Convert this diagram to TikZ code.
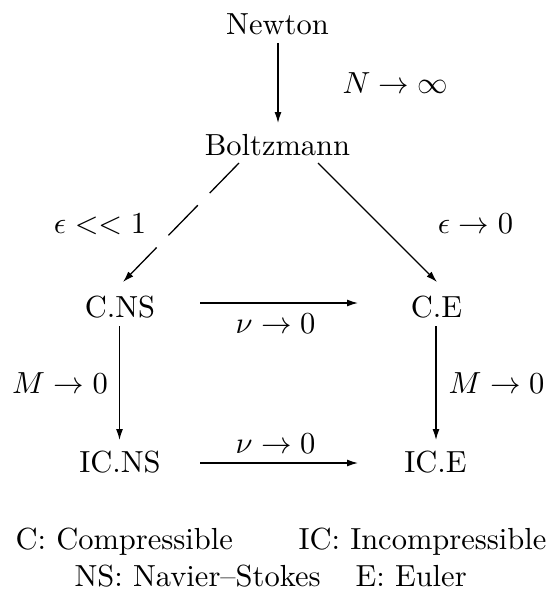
\documentclass[tikz,border=0pt]{standalone}
\usetikzlibrary{arrows.meta}
\begin{document}
\begin{tikzpicture}[x=1pt,y=-1pt,
  lbl/.style={anchor=base,inner sep=0pt,font=\fontsize{10}{12}\selectfont,scale=3.05},
  lglbl/.style={lbl,anchor=base west},
  conn/.style={line width=1.3pt,-{Latex[length=11pt,width=7pt]}},
  dashconn/.style={conn,dash pattern=on 42pt off 17pt}]
\useasboundingbox (0,0) rectangle (547,594);
% nodes
\node[lbl] (nw) at (277.5,35) {Newton};
\node[lbl] (bz) at (277.5,155) {Boltzmann};
\node[lbl] (cns) at (120,317) {C.NS};
\node[lbl] (ce) at (436.5,317) {C.E};
\node[lbl] (icns) at (120,472) {IC.NS};
\node[lbl] (ice) at (435.5,472) {IC.E};
% labels
\node[lbl] (lN) at (395.5,93) {$N\rightarrow\infty$};
\node[lbl] (lE1) at (100,233) {$\epsilon << 1$};
\node[lbl] (lE0) at (475.5,233) {$\epsilon\rightarrow 0$};
\node[lbl] (lnu1) at (275.5,333) {$\nu\rightarrow 0$};
\node[lbl] (lnu2) at (275.5,453) {$\nu\rightarrow 0$};
\node[lbl] (lM1) at (60,393) {$M\rightarrow 0$};
\node[lbl] (lM2) at (496.5,393) {$M\rightarrow 0$};
% legend
\node[lglbl] (lg1) at (15,549) {C: Compressible};
\node[lglbl] (lg2) at (298,549) {IC: Incompressible};
\node[lglbl] (lg3) at (74,586) {NS: Navier--Stokes};
\node[lglbl] (lg4) at (355,586) {E: Euler};
% connectors
\draw[conn] ([shift={(0.5,8)}]nw.base) -- ([shift={(0.5,-32)}]bz.base);
\draw[dashconn] ([shift={(-38.5,8)}]bz.base) -- ([shift={(3,-35)}]cns.base);
\draw[conn] ([shift={(40.5,8)}]bz.base) -- ([shift={(0.5,-35)}]ce.base);
\draw[conn] ([shift={(80,-14)}]cns.base) -- ([shift={(-78.5,-14)}]ce.base);
\draw[conn] ([shift={(-0.5,9)}]cns.base) -- ([shift={(-0.5,-32)}]icns.base);
\draw[conn] ([shift={(-0.5,9)}]ce.base) -- ([shift={(0.5,-32)}]ice.base);
\draw[conn] ([shift={(80,-9)}]icns.base) -- ([shift={(-77.5,-9)}]ice.base);
\end{tikzpicture}
\end{document}
